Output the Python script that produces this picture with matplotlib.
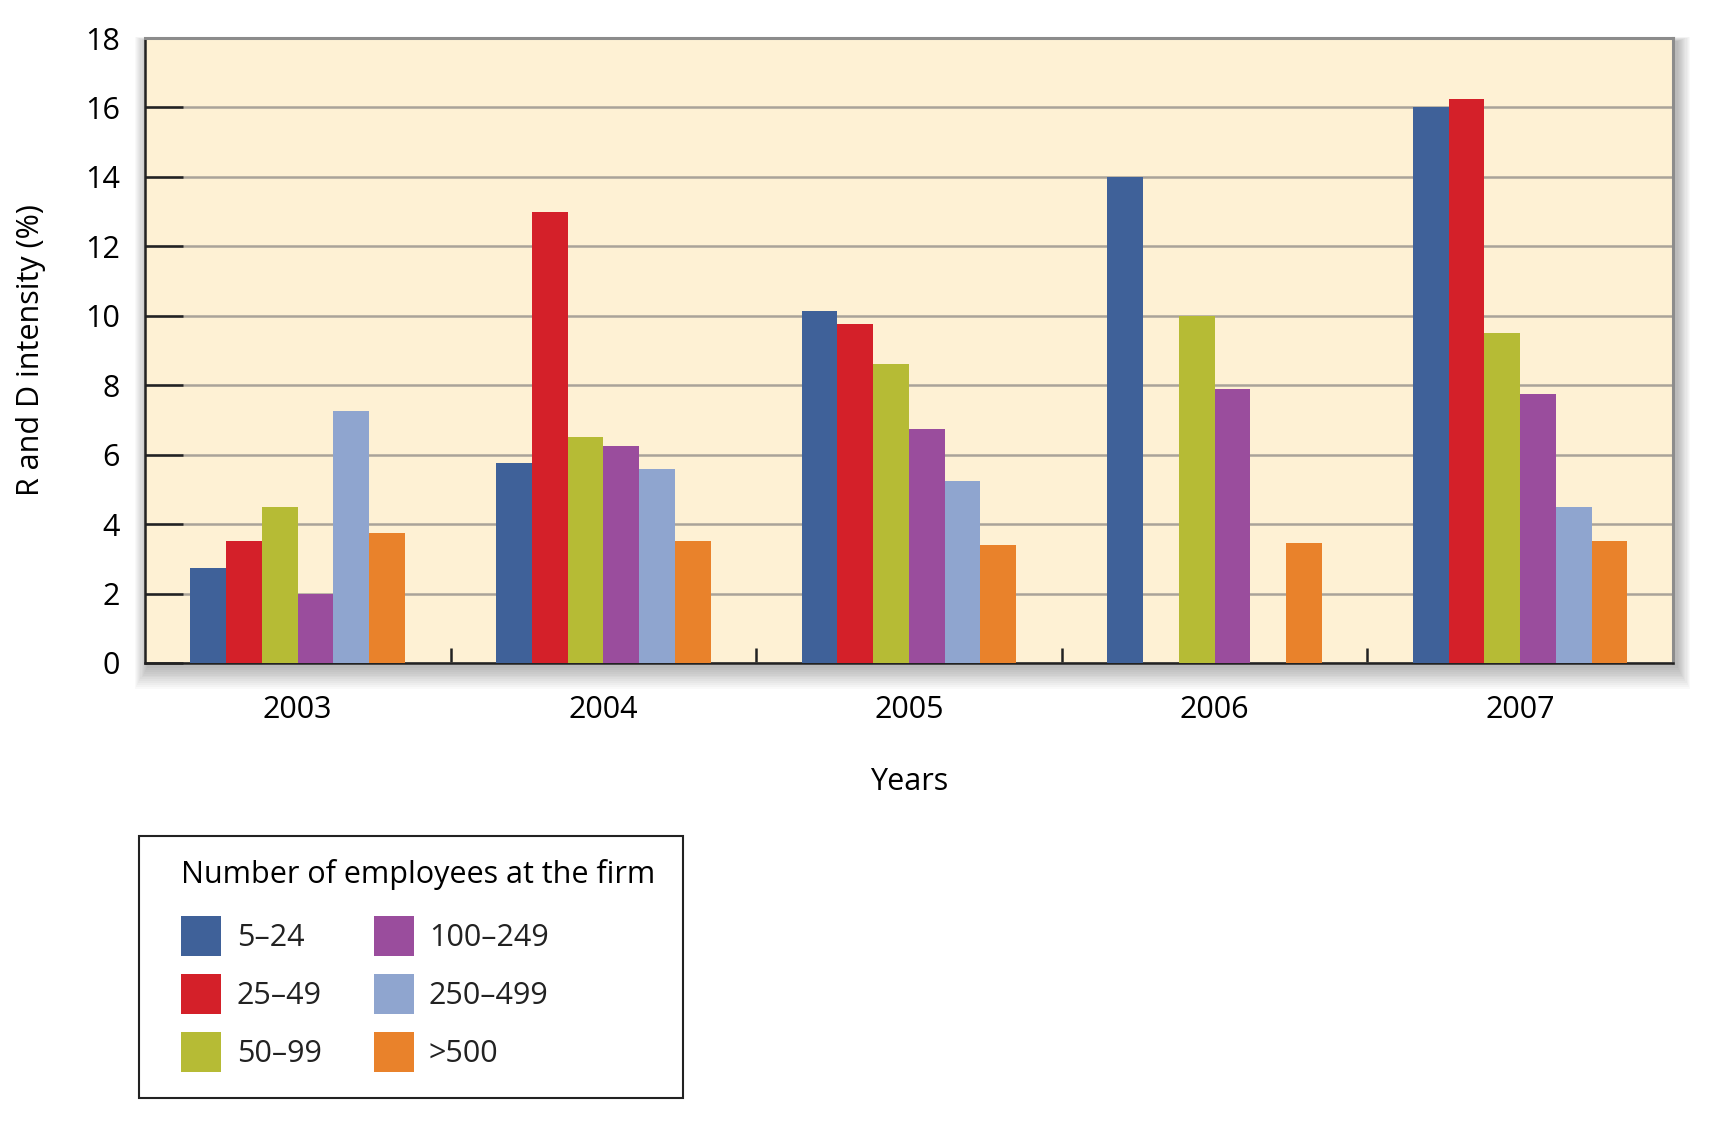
import numpy as np
import matplotlib
matplotlib.use("Agg")
import matplotlib.pyplot as plt
from matplotlib.patches import Rectangle, Patch

plt.rcParams['font.family'] = ['Open Sans', 'DejaVu Sans']

# data
years = ['2003', '2004', '2005', '2006', '2007']
groups = ['5\u201324', '25\u201349', '50\u201399', '100\u2013249', '250\u2013499', '>500']
s_5_24 = [2.75, 5.75, 10.15, 14.0, 16.0]
s_25_49 = [3.5, 13.0, 9.75, 0.0, 16.25]
s_50_99 = [4.5, 6.5, 8.6, 10.0, 9.5]
s_100_249 = [2.0, 6.25, 6.75, 7.9, 7.75]
s_250_499 = [7.25, 5.6, 5.25, 0.0, 4.5]
s_500 = [3.75, 3.5, 3.4, 3.45, 3.5]
series = [s_5_24, s_25_49, s_50_99, s_100_249, s_250_499, s_500]
colors = ['#3f6199', '#d42029', '#b6bb35', '#9a4d9d', '#8fa5cf', '#e9822b']

fig = plt.figure(figsize=(17.11, 11.22), dpi=100)
ax = fig.add_axes([0.0847, 0.4091, 0.8931, 0.557])

# soft drop shadow round the plot area
l, b, w, h = ax.get_position().bounds
for i in range(12):
    d = (i + 1) * 0.0011
    fig.patches.append(Rectangle((l - d * 0.6 + 0.002, b - d * 1.5 - 0.003),
                                 w + d * 1.2, h + d * 1.5 * 1.2,
                                 transform=fig.transFigure, facecolor='#000000',
                                 alpha=0.022, edgecolor='none', zorder=-5))

ax.set_facecolor('#fef1d4')
x = np.arange(len(years))
bw = 0.117
for i, (vals, c) in enumerate(zip(series, colors)):
    ax.bar(x + (i - 2.5) * bw, vals, width=bw, color=c, zorder=3, linewidth=0)

ax.set_xlim(-0.5, 4.5)
ax.set_ylim(0, 18)
ax.set_yticks(np.arange(0, 19, 2))
ax.yaxis.grid(True, color='#aaa399', linewidth=1.8, zorder=1)
ax.set_axisbelow(True)

ax.set_xticks(x)
ax.set_xticklabels(years)
ax.set_xticks(x + 0.5, minor=True)
ax.tick_params(axis='x', which='major', length=0, pad=23, labelsize=22)
ax.tick_params(axis='x', which='minor', direction='in', length=11, width=1.8, color='#222222')
ax.tick_params(axis='y', direction='in', length=27, width=1.8, color='#222222', pad=18, labelsize=22)

for s in ['left', 'bottom']:
    ax.spines[s].set_color('#222222')
    ax.spines[s].set_linewidth(1.8)
for s in ['top', 'right']:
    ax.spines[s].set_color('#8c8c8c')
    ax.spines[s].set_linewidth(2.2)

ax.set_xlabel('Years', fontsize=22, labelpad=30)
ax.set_ylabel('R and D intensity (%)', fontsize=22, labelpad=28)

# legend: frame drawn separately so the padding can differ by side
fig.patches.append(Rectangle((0.0812, 0.0214), 0.318, 0.2335, transform=fig.transFigure,
                             facecolor='white', edgecolor='#222222', linewidth=1.5))
handles = [Patch(facecolor=c, edgecolor='none') for c in colors]
leg = fig.legend(handles, groups, ncol=2, loc='upper left',
                 bbox_to_anchor=(0.106, 0.2347), fontsize=22,
                 title='Number of employees at the firm', title_fontsize=22,
                 frameon=False, alignment='left',
                 handlelength=1.31, handleheight=1.64, handletextpad=0.5,
                 labelspacing=0.59, columnspacing=1.7, borderpad=0,
                 borderaxespad=0)
leg._legend_box.sep = 19
for t in leg.get_texts():
    t.set_color('#222222')

fig.savefig('out.png', dpi=100)
